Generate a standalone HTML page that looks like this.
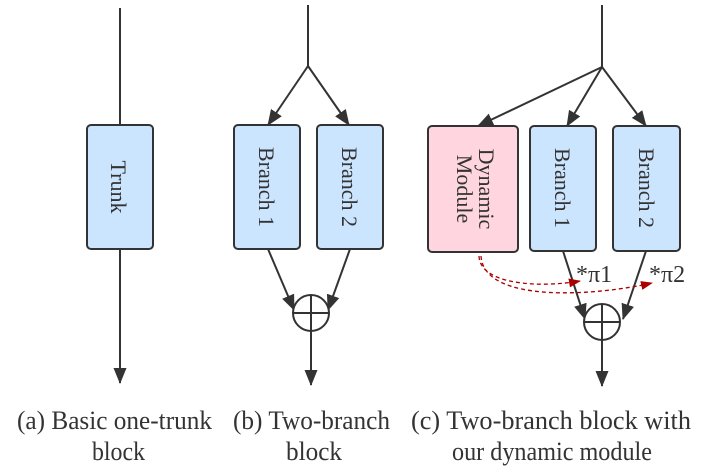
<!DOCTYPE html>
<html><head><style>
body{margin:0;background:#fff}
svg{display:block}
text{font-family:"Liberation Serif",serif;fill:#333}
</style></head><body>
<svg width="706" height="473" viewBox="0 0 706 473">
<defs>
<marker id="a2" markerWidth="16" markerHeight="14" refX="15" refY="7" orient="auto" markerUnits="userSpaceOnUse"><path d="M0,0.5 L16,7 L0,13.5 Z" fill="#333"/></marker>
<marker id="r" markerWidth="12" markerHeight="10" refX="11" refY="5" orient="auto" markerUnits="userSpaceOnUse"><path d="M0,0.5 L12,5 L0,9.5 Z" fill="#a00"/></marker>
</defs>
<g stroke="#333" stroke-width="2" fill="none">
<line x1="120" y1="8" x2="120" y2="125"/>
<line x1="120" y1="249" x2="120" y2="383" marker-end="url(#a2)"/>
<line x1="308" y1="5" x2="308" y2="66"/>
<line x1="308" y1="66" x2="268" y2="125" marker-end="url(#a2)"/>
<line x1="308" y1="66" x2="349" y2="125" marker-end="url(#a2)"/>
<line x1="268" y1="249" x2="294" y2="310" marker-end="url(#a2)"/>
<line x1="350" y1="249" x2="328" y2="310" marker-end="url(#a2)"/>
<line x1="311" y1="331" x2="311" y2="385" marker-end="url(#a2)"/>
<line x1="602" y1="5" x2="602" y2="67"/>
<line x1="602" y1="67" x2="478" y2="126" marker-end="url(#a2)"/>
<line x1="602" y1="67" x2="567" y2="126" marker-end="url(#a2)"/>
<line x1="602" y1="67" x2="646" y2="126" marker-end="url(#a2)"/>
<line x1="563" y1="251" x2="585" y2="319" marker-end="url(#a2)"/>
<line x1="646" y1="251" x2="623" y2="319" marker-end="url(#a2)"/>
<line x1="602" y1="340" x2="602" y2="386" marker-end="url(#a2)"/>
</g>
<g stroke="#333" stroke-width="2">
<rect x="87" y="125" width="66" height="124" rx="4" fill="#cce5ff"/>
<rect x="234" y="125" width="66" height="124" rx="4" fill="#cce5ff"/>
<rect x="317" y="125" width="66" height="124" rx="4" fill="#cce5ff"/>
<rect x="428" y="126" width="90" height="126" rx="4" fill="#ffd6df"/>
<rect x="530" y="126" width="66" height="125" rx="4" fill="#cce5ff"/>
<rect x="613" y="126" width="67" height="125" rx="4" fill="#cce5ff"/>
<circle cx="311" cy="313" r="18" fill="#fff"/>
<line x1="293" y1="313" x2="329" y2="313"/><line x1="311" y1="295" x2="311" y2="331"/>
<circle cx="602" cy="322" r="18" fill="#fff"/>
<line x1="584" y1="322" x2="620" y2="322"/><line x1="602" y1="304" x2="602" y2="340"/>
</g>
<g stroke="#a00" stroke-width="1.3" fill="none" stroke-dasharray="4,3">
<path d="M479,256 C480,285 540,288 580,281" marker-end="url(#r)"/>
<path d="M481,256 C484,305 600,295 652,283" marker-end="url(#r)"/>
</g>
<g font-size="22">
<text transform="translate(111,187) rotate(90)" text-anchor="middle">Trunk</text>
<text transform="translate(259,187) rotate(90)" text-anchor="middle">Branch 1</text>
<text transform="translate(342,187) rotate(90)" text-anchor="middle">Branch 2</text>
<text transform="translate(555,188) rotate(90)" text-anchor="middle">Branch 1</text>
<text transform="translate(639,188) rotate(90)" text-anchor="middle">Branch 2</text>
<text transform="translate(479,189) rotate(90)" text-anchor="middle">Dynamic</text>
<text transform="translate(457,189) rotate(90)" text-anchor="middle">Module</text>
</g>
<g font-size="24">
<text x="576" y="282">*π1</text>
<text x="649" y="282">*π2</text>
</g>
<g font-size="26">
<text x="17" y="429" textLength="195" lengthAdjust="spacingAndGlyphs">(a) Basic one-trunk</text>
<text x="92" y="460" textLength="53" lengthAdjust="spacingAndGlyphs">block</text>
<text x="233" y="429" textLength="157" lengthAdjust="spacingAndGlyphs">(b) Two-branch</text>
<text x="286" y="460" textLength="56" lengthAdjust="spacingAndGlyphs">block</text>
<text x="411" y="429" textLength="280" lengthAdjust="spacingAndGlyphs">(c) Two-branch block with</text>
<text x="452" y="460" textLength="200" lengthAdjust="spacingAndGlyphs">our dynamic module</text>
</g>
</svg>
</body></html>
